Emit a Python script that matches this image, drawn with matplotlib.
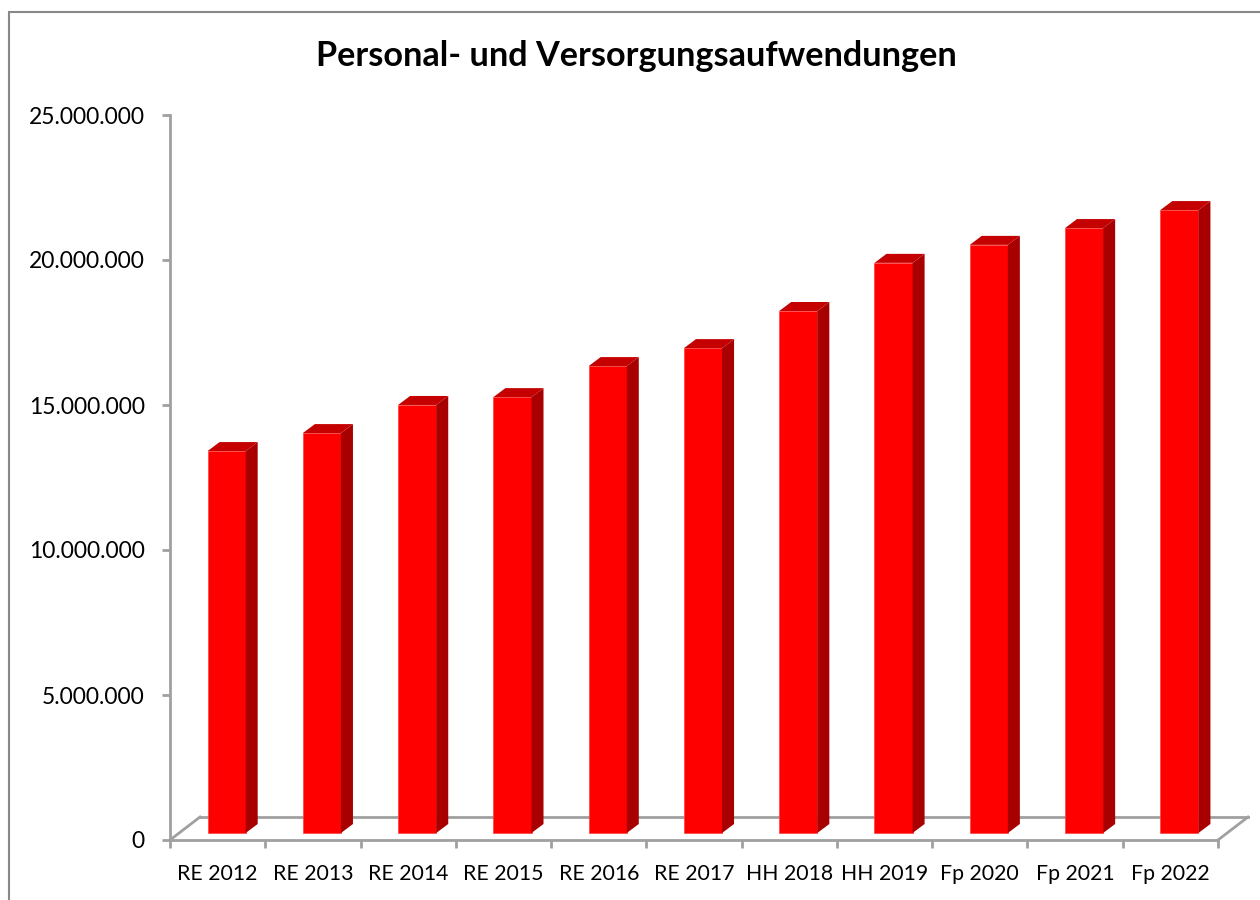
import matplotlib
matplotlib.use("Agg")
import matplotlib.pyplot as plt
from matplotlib.patches import Polygon, Rectangle
from matplotlib.transforms import ScaledTranslation

categories = ["RE 2012", "RE 2013", "RE 2014", "RE 2015", "RE 2016", "RE 2017",
              "HH 2018", "HH 2019", "Fp 2020", "Fp 2021", "Fp 2022"]
values = [13170000, 13790000, 14760000, 15030000, 16100000, 16720000,
          18000000, 19660000, 20280000, 20860000, 21480000]
yticks = [0, 5000000, 10000000, 15000000, 20000000, 25000000]
title = "Personal- und Versorgungsaufwendungen"

plt.rcParams['font.family'] = ['Lato', 'DejaVu Sans']

W, H = 1260, 900
fig = plt.figure(figsize=(W / 100, H / 100), dpi=100)
ax = fig.add_axes([170 / W, 60 / H, 1048 / W, 725 / H])
ax.set_xlim(-0.5, len(categories) - 0.5)
ax.set_ylim(0, 25000000)


def shift(dx, dy):
    # offset in pixels (dpi = 100)
    return ScaledTranslation(dx / 100, dy / 100, fig.dpi_scale_trans)


grey = "#a0a0a0"

# floor of the 3d box
t_ax = ax.transAxes
ax.plot([0, 1], [0, 0], transform=t_ax + shift(30, 23), color=grey, lw=2, clip_on=False, zorder=1)
for xa in (0, 1):
    x0, y0 = t_ax.transform((xa, 0))
    ax.plot([x0, x0 + 30], [y0, y0 + 23], transform=None, color=grey, lw=2, clip_on=False, zorder=1)

# bars: front face, side and top
bw = 0.4
front = ax.transData + shift(9, 7)
back = ax.transData + shift(21, 16)
for i, v in enumerate(values):
    ax.bar(i, v, width=bw, color="#ff0000", transform=front, zorder=3, edgecolor="#ff4040", linewidth=0.5)
    xl, xr = i - bw / 2, i + bw / 2
    p0 = front.transform([(xr, 0), (xr, v)])
    p1 = back.transform([(xr, v), (xr, 0)])
    ax.add_patch(Polygon(list(p0) + list(p1), closed=True, transform=None,
                         facecolor="#a80000", edgecolor="none", zorder=3, clip_on=False))
    q0 = front.transform([(xl, v), (xr, v)])
    q1 = back.transform([(xr, v), (xl, v)])
    ax.add_patch(Polygon(list(q0) + list(q1), closed=True, transform=None,
                         facecolor="#c40000", edgecolor="none", zorder=3, clip_on=False))

# axes
for s in ("top", "right"):
    ax.spines[s].set_visible(False)
ax.spines["left"].set_color(grey)
ax.spines["left"].set_linewidth(2)
ax.spines["bottom"].set_color(grey)
ax.spines["bottom"].set_linewidth(2)

ax.set_yticks(yticks)
ax.set_yticklabels(["{:,}".format(t).replace(",", ".") for t in yticks], fontsize=16.5)
ax.tick_params(axis="y", length=6, width=2, color=grey, pad=12)

ax.set_xticks([i - 0.5 for i in range(len(categories) + 1)])
ax.set_xticklabels([])
ax.set_xticks(range(len(categories)), minor=True)
ax.set_xticklabels(categories, minor=True, fontsize=15.3)
ax.tick_params(axis="x", which="major", length=6, width=2, color=grey)
ax.tick_params(axis="x", which="minor", length=0, pad=17)

fig.text(636 / W, 1 - 56 / H, title, ha="center", va="center", fontsize=24.7, fontweight="bold")

# outer chart frame
fig.patches.append(Rectangle((9 / W, -0.1), 1.2, 1.1 - 12 / H, transform=fig.transFigure,
                             fill=False, edgecolor="#888888", lw=1.5))

fig.savefig("out.png", dpi=100)
